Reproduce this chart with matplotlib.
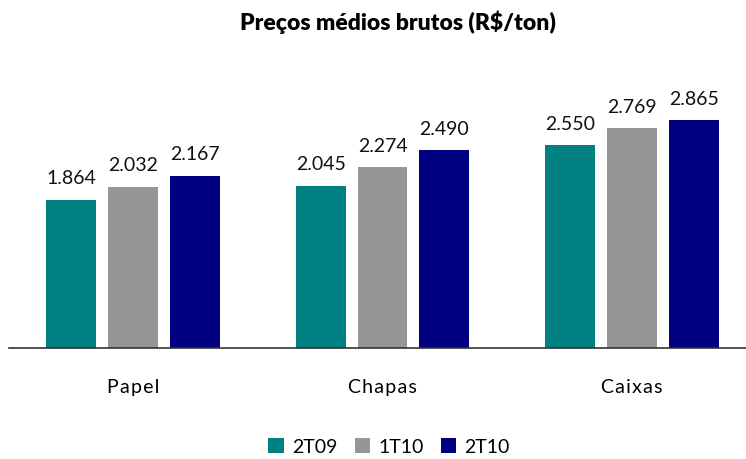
import matplotlib
matplotlib.use('Agg')
import matplotlib.pyplot as plt
import numpy as np

# dados do gráfico
categorias = ['Papel', 'Chapas', 'Caixas']
series = ['2T09', '1T10', '2T10']
v_2t09 = [1864, 2045, 2550]
v_1t10 = [2032, 2274, 2769]
v_2t10 = [2167, 2490, 2865]
cores = ['#008080', '#969696', '#000080']

plt.rcParams['font.family'] = ['Lato', 'DejaVu Sans']

fig = plt.figure(figsize=(7.46, 4.59), dpi=100)
ax = fig.add_axes([9 / 746, 111 / 459, 737 / 746, 278 / 459])

x = np.arange(len(categorias))
passo = 0.247
largura = 0.2
valores = [v_2t09, v_1t10, v_2t10]
for i, (nome, vals) in enumerate(zip(series, valores)):
    barras = ax.bar(x + (i - 1) * passo, vals, largura, color=cores[i], label=nome)
    rotulos = [f'{v / 1000:.3f}' for v in vals]
    ax.bar_label(barras, labels=rotulos, padding=9, fontsize=14, color='#111111')

ax.set_xlim(-0.497, 2.457)
ax.set_ylim(0, 3500)
ax.set_yticks([])
ax.set_xticks(x)
# espaçamento entre letras como no original
ax.set_xticklabels(['\u200a'.join(c) for c in categorias], fontsize=14)
ax.tick_params(axis='x', length=0, pad=22)
for lado in ['top', 'right', 'left']:
    ax.spines[lado].set_visible(False)
ax.spines['bottom'].set_color('#333333')
ax.spines['bottom'].set_linewidth(1.2)

fig.text(398 / 746, 1 - 22 / 459, 'Preços médios brutos (R$/ton)', ha='center', va='center',
         fontsize=16.5, fontweight='heavy')

fig.legend(loc='center', bbox_to_anchor=(389 / 746, 1 - 447 / 459), ncol=3, frameon=False,
           fontsize=14, handlelength=0.8, handleheight=0.8, handletextpad=0.4, columnspacing=0.9)

fig.savefig('out.png', dpi=100)
